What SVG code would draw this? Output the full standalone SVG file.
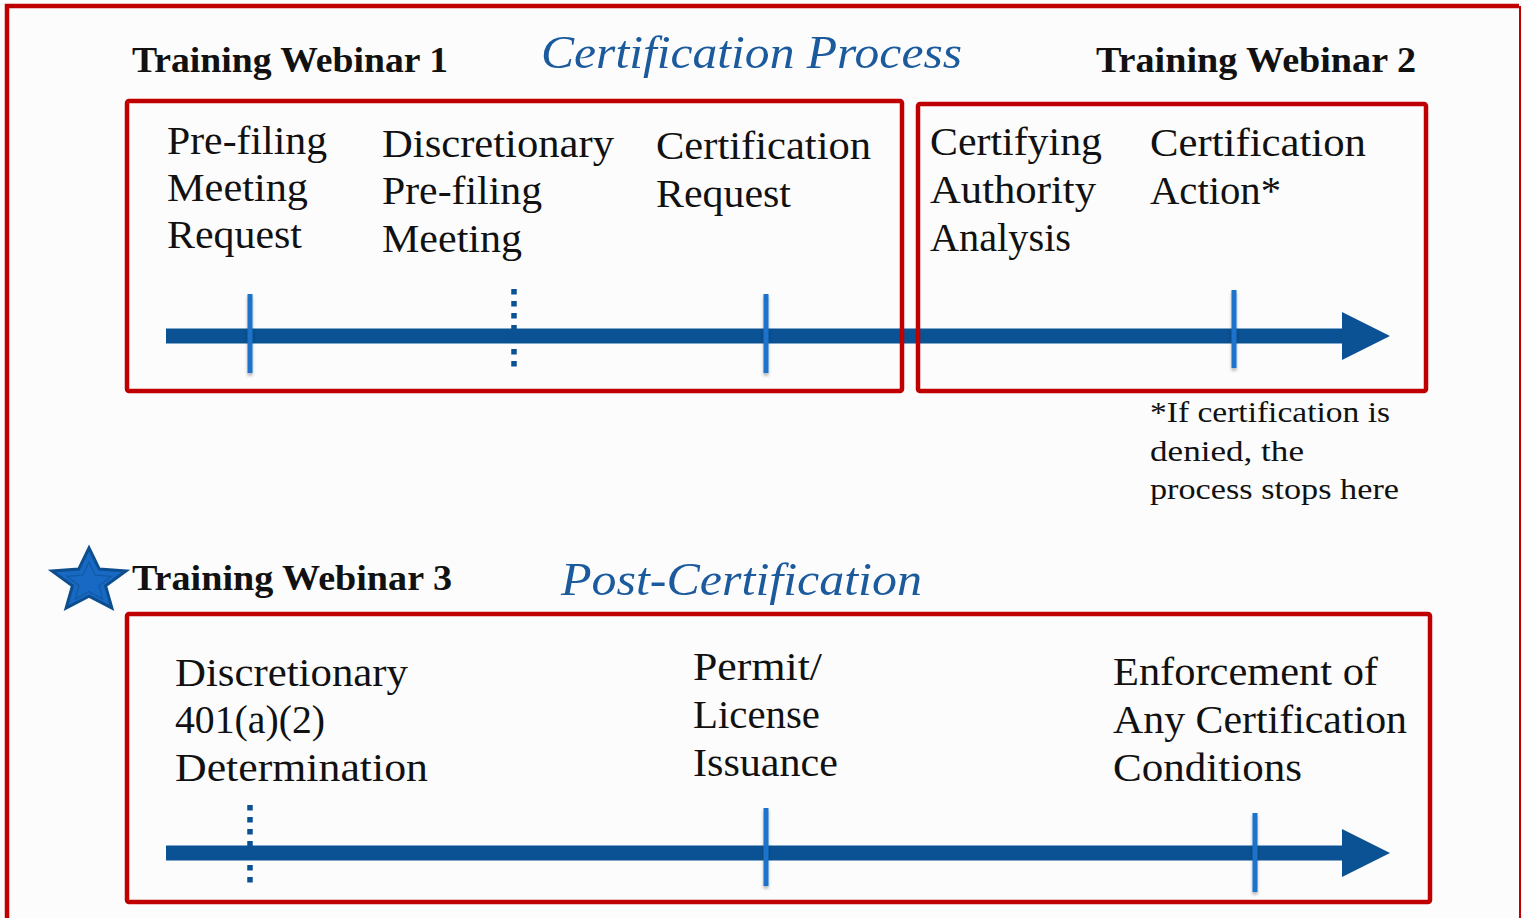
<svg xmlns="http://www.w3.org/2000/svg" width="1522" height="918" viewBox="0 0 1522 918">
  <defs>
    <style>
      .frame { fill: none; stroke: #C00000; stroke-width: 4.5; stroke-linejoin: round; }
      .label { font-family: "Liberation Serif", "Times New Roman", serif; font-size: 39px; fill: #111; }
      .note { font-family: "Liberation Serif", "Times New Roman", serif; font-size: 29px; fill: #111; }
      .head { font-family: "Liberation Serif", "Times New Roman", serif; font-size: 35px; font-weight: bold; fill: #111; }
      .title { font-family: "Liberation Serif", "Times New Roman", serif; font-size: 47px; font-style: italic; fill: #1B5A9C; }
      .bar { fill: #0A5293; }
      .tick { fill: #1A73C9; filter: url(#tickShadow); }
      .dots { stroke: #0A5293; stroke-width: 5.5; stroke-dasharray: 5.5 6.5; }
    </style>
    <filter id="tickShadow" filterUnits="userSpaceOnUse" x="0" y="0" width="1522" height="918">
      <feDropShadow dx="0" dy="2.5" stdDeviation="1.6" flood-color="#000" flood-opacity="0.3"/>
    </filter>
  </defs>

  <!-- page background and outer frame -->
  <rect x="0" y="0" width="1522" height="918" fill="#FCFCFC"/>
  <path d="M7,918 V6 H1519" fill="none" stroke="#C00000" stroke-width="4.5"/>
  <line x1="1520" y1="6" x2="1520" y2="918" stroke="#C00000" stroke-width="2"/>

  <!-- section headings -->
  <g id="headings">
    <text class="head" x="132" y="72" textLength="316" lengthAdjust="spacingAndGlyphs">Training Webinar 1</text>
    <text class="title" x="541" y="68" textLength="421" lengthAdjust="spacingAndGlyphs">Certification Process</text>
    <text class="head" x="1096" y="72" textLength="320" lengthAdjust="spacingAndGlyphs">Training Webinar 2</text>
    <text class="head" x="132" y="590" textLength="320" lengthAdjust="spacingAndGlyphs">Training Webinar 3</text>
    <text class="title" x="561" y="595" textLength="361" lengthAdjust="spacingAndGlyphs">Post-Certification</text>
    <g id="star">
      <polygon points="89,548 99.3,569.1 126,570.9 105.6,585.8 111.9,608.1 89,596.1 66.1,608.1 72.4,585.8 52,570.9 78.7,569.1"
               fill="#1769C4" stroke="#0D4E8F" stroke-width="3" stroke-linejoin="miter"/>
      <polygon points="89,562 95.2,575.2 111.2,576.3 99,585.5 102.7,599 89,591.5 75.3,599 79,585.5 66.8,576.3 82.8,575.2"
               fill="none" stroke="#0D4E8F" stroke-width="1.2" opacity="0.6"/>
    </g>
  </g>

  <!-- timelines -->
  <g id="connectors">
    <rect class="bar" x="166" y="328.5" width="1180" height="15"/>
    <polygon class="bar" points="1342,312 1390,336 1342,360"/>
    <rect class="bar" x="166" y="845.5" width="1180" height="15"/>
    <polygon class="bar" points="1342,829 1390,853 1342,877"/>
  </g>

  <!-- stage 1: pre-filing through certification request -->
  <g id="stage-prefiling">
    <rect class="frame" x="127" y="101" width="775" height="290" rx="2"/>
    <text class="label" x="167" y="154" textLength="160" lengthAdjust="spacingAndGlyphs">Pre-filing</text>
    <text class="label" x="167" y="201" textLength="141" lengthAdjust="spacingAndGlyphs">Meeting</text>
    <text class="label" x="167" y="248" textLength="135" lengthAdjust="spacingAndGlyphs">Request</text>
    <rect class="tick" x="247.5" y="294" width="5" height="79"/>

    <text class="label" x="382" y="157" textLength="232" lengthAdjust="spacingAndGlyphs">Discretionary</text>
    <text class="label" x="382" y="204" textLength="160" lengthAdjust="spacingAndGlyphs">Pre-filing</text>
    <text class="label" x="382" y="252" textLength="140" lengthAdjust="spacingAndGlyphs">Meeting</text>
    <line class="dots" x1="514" y1="289" x2="514" y2="369"/>

    <text class="label" x="656" y="159" textLength="215" lengthAdjust="spacingAndGlyphs">Certification</text>
    <text class="label" x="656" y="207" textLength="135" lengthAdjust="spacingAndGlyphs">Request</text>
    <rect class="tick" x="763.5" y="294" width="5" height="79"/>
  </g>

  <!-- stage 2: authority analysis and action -->
  <g id="stage-action">
    <rect class="frame" x="918" y="104" width="508" height="287" rx="2"/>
    <text class="label" x="930" y="155" textLength="172" lengthAdjust="spacingAndGlyphs">Certifying</text>
    <text class="label" x="930" y="203" textLength="166" lengthAdjust="spacingAndGlyphs">Authority</text>
    <text class="label" x="930" y="251" textLength="141" lengthAdjust="spacingAndGlyphs">Analysis</text>
    <text class="label" x="1150" y="156" textLength="216" lengthAdjust="spacingAndGlyphs">Certification</text>
    <text class="label" x="1150" y="204" textLength="131" lengthAdjust="spacingAndGlyphs">Action*</text>
    <rect class="tick" x="1231.5" y="290" width="5" height="78"/>
  </g>

  <!-- footnote -->
  <g id="footnote">
    <text class="note" x="1150" y="422" textLength="240" lengthAdjust="spacingAndGlyphs">*If certification is</text>
    <text class="note" x="1150" y="461" textLength="154" lengthAdjust="spacingAndGlyphs">denied, the</text>
    <text class="note" x="1150" y="499" textLength="249" lengthAdjust="spacingAndGlyphs">process stops here</text>
  </g>

  <!-- post-certification steps -->
  <g id="stage-post">
    <rect class="frame" x="127" y="614" width="1303" height="288" rx="2"/>
    <text class="label" x="175" y="686" textLength="233" lengthAdjust="spacingAndGlyphs">Discretionary</text>
    <text class="label" x="175" y="733" textLength="150" lengthAdjust="spacingAndGlyphs">401(a)(2)</text>
    <text class="label" x="175" y="781" textLength="253" lengthAdjust="spacingAndGlyphs">Determination</text>
    <line class="dots" x1="250" y1="805" x2="250" y2="885"/>

    <text class="label" x="693" y="680" textLength="129" lengthAdjust="spacingAndGlyphs">Permit/</text>
    <text class="label" x="693" y="728" textLength="127" lengthAdjust="spacingAndGlyphs">License</text>
    <text class="label" x="693" y="776" textLength="145" lengthAdjust="spacingAndGlyphs">Issuance</text>
    <rect class="tick" x="763.5" y="808" width="5" height="78"/>

    <text class="label" x="1113" y="685" textLength="265" lengthAdjust="spacingAndGlyphs">Enforcement of</text>
    <text class="label" x="1113" y="733" textLength="294" lengthAdjust="spacingAndGlyphs">Any Certification</text>
    <text class="label" x="1113" y="781" textLength="189" lengthAdjust="spacingAndGlyphs">Conditions</text>
    <rect class="tick" x="1252.5" y="813" width="5" height="79"/>
  </g>
</svg>
